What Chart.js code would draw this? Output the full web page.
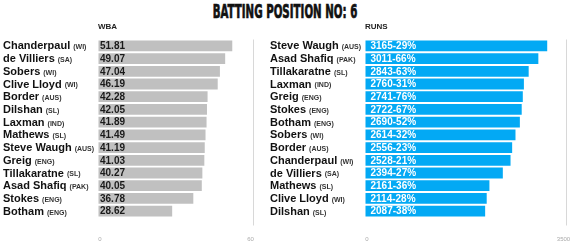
<!DOCTYPE html>
<html>
<head>
<meta charset="utf-8">
<script src="https://cdn.jsdelivr.net/npm/chart.js@4/dist/chart.umd.min.js"></script>
<style>
  body { margin: 0; background: #fff; }
  #wrap { position: relative; width: 570px; height: 244px; overflow: hidden; }
  #title {
    position: absolute; left: 0; top: 0px; width: 570px; text-align: center;
    font-family: "DejaVu Sans Condensed", "Liberation Sans Narrow", sans-serif;
    font-weight: bold; font-size: 19px; color: #111; letter-spacing: 0px;
    -webkit-text-stroke: 0.7px #111;
    transform: scaleX(0.6);
  }
  canvas { position: absolute; top: 0; }
  #left { left: 0; }
  #right { left: 262px; }
</style>
</head>
<body>
<div id="wrap">
  <div id="title">BATTING POSITION NO: 6</div>
  <canvas id="left" width="262" height="244"></canvas>
  <canvas id="right" width="308" height="244"></canvas>
</div>
<script>
// left panel: batting average
const wbaPlayers = ["Chanderpaul", "de Villiers", "Sobers", "Clive Lloyd", "Border", "Dilshan", "Laxman",
  "Mathews", "Steve Waugh", "Greig", "Tillakaratne", "Asad Shafiq", "Stokes", "Botham"];
const wbaTeams = ["WI", "SA", "WI", "WI", "AUS", "SL", "IND", "SL", "AUS", "ENG", "SL", "PAK", "ENG", "ENG"];
const wbaValues = [51.81, 49.07, 47.04, 46.19, 42.28, 42.05, 41.89, 41.49, 41.19, 41.03, 40.27, 40.05, 36.78, 28.62];
const wbaTicks = [0, 60];

// right panel: runs and share of team runs
const runsPlayers = ["Steve Waugh", "Asad Shafiq", "Tillakaratne", "Laxman", "Greig", "Stokes", "Botham",
  "Sobers", "Border", "Chanderpaul", "de Villiers", "Mathews", "Clive Lloyd", "Dilshan"];
const runsTeams = ["AUS", "PAK", "SL", "IND", "ENG", "ENG", "ENG", "WI", "AUS", "WI", "SA", "SL", "WI", "SL"];
const runsValues = [3165, 3011, 2843, 2760, 2741, 2722, 2690, 2614, 2556, 2528, 2394, 2161, 2114, 2087];
const runsShare = [29, 66, 63, 31, 76, 67, 52, 32, 23, 21, 27, 36, 28, 38];
const runsTicks = [0, 3500];

const FONT = "'Liberation Sans', Arial, sans-serif";

// draws names + country tags, heading, values in bars and x tick labels
const panelPlugin = {
  id: "panel",
  afterDatasetsDraw(chart, args, opts) {
    const ctx = chart.ctx;
    const x = chart.scales.x;
    const y = chart.scales.y;
    const meta = chart.getDatasetMeta(0);
    ctx.save();
    ctx.textBaseline = "middle";

    opts.names.forEach((name, i) => {
      const py = y.getPixelForValue(i) + 0.5;
      ctx.font = "bold 11px " + FONT;
      ctx.fillStyle = "#111";
      ctx.textAlign = "left";
      ctx.fillText(name, opts.nameX, py);
      const w = ctx.measureText(name).width;
      ctx.font = "bold 7px " + FONT;
      ctx.fillStyle = "#333";
      ctx.fillText("(" + opts.teams[i] + ")", opts.nameX + w + 3, py + 1);

      const bar = meta.data[i];
      ctx.font = "bold 10px " + FONT;
      ctx.fillStyle = opts.valueColor;
      ctx.fillText(opts.labels[i], bar.base + opts.valueInset, py);
    });

    ctx.font = "bold 8px " + FONT;
    ctx.fillStyle = "#222";
    ctx.fillText(opts.heading, x.left, 27);

    ctx.font = "6px " + FONT;
    ctx.fillStyle = "#aaa";
    ctx.textAlign = "center";
    opts.ticks.forEach(t => {
      ctx.fillText(String(t), x.getPixelForValue(t) + (t === 0 ? 2 : -3), 239);
    });
    ctx.restore();
  }
};

function makeChart(id, names, teams, values, labels, ticks, color, textColor, inset, heading, pad) {
  return new Chart(document.getElementById(id), {
    type: "bar",
    data: {
      labels: names,
      datasets: [{
        data: values,
        backgroundColor: color,
        borderWidth: 0,
        barPercentage: 0.85,
        categoryPercentage: 1
      }]
    },
    options: {
      indexAxis: "y",
      responsive: false,
      animation: false,
      layout: { padding: { left: pad.left, right: pad.right, top: 39.5, bottom: 18.5 } },
      scales: {
        x: {
          min: ticks[0],
          max: ticks[1],
          ticks: { display: false, stepSize: ticks[1] },
          border: { display: false },
          grid: {
            color: c => (c.tick && c.tick.value === ticks[1]) ? "#d8d8d8" : "rgba(0,0,0,0)",
            tickLength: 8,
            lineWidth: 1
          }
        },
        y: { display: false }
      },
      plugins: {
        legend: { display: false },
        tooltip: { enabled: false },
        panel: {
          names: names, teams: teams, labels: labels, ticks: ticks,
          valueColor: textColor, valueInset: inset, heading: heading, nameX: pad.nameX
        }
      }
    },
    plugins: [panelPlugin]
  });
}

makeChart("left", wbaPlayers, wbaTeams, wbaValues,
  wbaValues.map(v => v.toFixed(2)), wbaTicks, "#c0c0c0", "#1a1a1a", 1.5, "WBA",
  { left: 98, right: 8.5, nameX: 3 });

makeChart("right", runsPlayers, runsTeams, runsValues,
  runsValues.map((v, i) => v + "-" + runsShare[i] + "%"), runsTicks, "#03a9f4", "#ffffff", 5, "RUNS",
  { left: 103, right: 3.5, nameX: 8 });
</script>
</body>
</html>
